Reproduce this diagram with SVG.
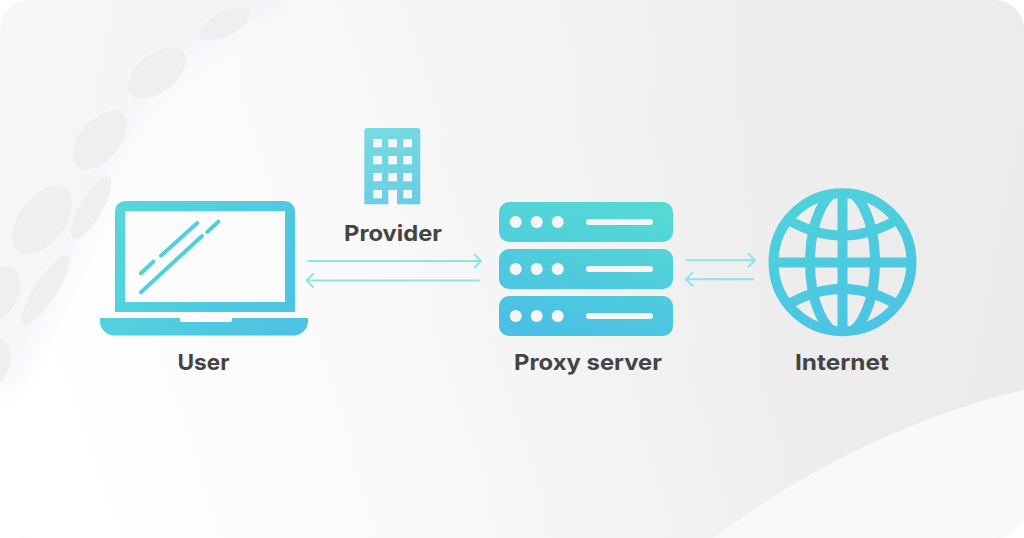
<svg xmlns="http://www.w3.org/2000/svg" width="1024" height="538" viewBox="0 0 1024 538">
<style>
.label{font-family:"Inter","Liberation Sans",sans-serif;font-weight:700;font-size:22px;fill:#444444;text-anchor:middle}
.conn{fill:none;stroke:#8fe4e6;stroke-width:2;marker-end:url(#chev)}
.dot{fill:#efefef}
.glass{fill:none;stroke:url(#gLaptop);stroke-width:4;stroke-linecap:round}
.win{fill:#f6f6f6}
.bar{fill:#f6f6f6}
</style>
<defs>
<marker id="chev" viewBox="0 0 10 16" refX="9" refY="8" markerWidth="10" markerHeight="16" markerUnits="userSpaceOnUse" orient="auto">
<path d="M2 1L9 8L2 15" fill="none" stroke="#8fe4e6" stroke-width="2"/>
</marker>
<linearGradient id="gBg" x1="0" y1="0" x2="1024" y2="200" gradientUnits="userSpaceOnUse"><stop offset="0" stop-color="#f7f7f7"/><stop offset="1" stop-color="#ebebeb"/></linearGradient>
<linearGradient id="gLeft" x1="50" y1="430" x2="800" y2="170" gradientUnits="userSpaceOnUse"><stop offset="0" stop-color="#ffffff"/><stop offset="0.45" stop-color="#fafafa" stop-opacity="0.85"/><stop offset="1" stop-color="#f2f2f2" stop-opacity="0"/></linearGradient>
<linearGradient id="gCorner" x1="720" y1="538" x2="1024" y2="400" gradientUnits="userSpaceOnUse"><stop offset="0" stop-color="#f8f8f8"/><stop offset="1" stop-color="#f9f9f9"/></linearGradient>
<linearGradient id="gLaptop" x1="115" y1="201" x2="300" y2="336" gradientUnits="userSpaceOnUse"><stop offset="0" stop-color="#55d8da"/><stop offset="1" stop-color="#4cc1e4"/></linearGradient>
<linearGradient id="gBuild" x1="380" y1="128" x2="405" y2="204" gradientUnits="userSpaceOnUse"><stop offset="0" stop-color="#75dce0"/><stop offset="1" stop-color="#6ccce6"/></linearGradient>
<linearGradient id="gServer" x1="605" y1="200" x2="565" y2="338" gradientUnits="userSpaceOnUse"><stop offset="0" stop-color="#54d9d4"/><stop offset="1" stop-color="#4bc0e4"/></linearGradient>
<linearGradient id="gGlobe" x1="815" y1="188" x2="870" y2="336" gradientUnits="userSpaceOnUse"><stop offset="0" stop-color="#4fd2da"/><stop offset="1" stop-color="#4cc3e4"/></linearGradient>
<clipPath id="cBg"><rect width="1024" height="538" rx="29"/></clipPath>
<clipPath id="cGlobe"><circle cx="842.5" cy="262.2" r="70"/></clipPath>
<clipPath id="cLeft"><path d="M285 0C215 22 165 60 135 105C105 155 85 205 60 262C40 310 20 352 0 388V538H1024V0Z"/></clipPath>
<filter id="soft" x="-30%" y="-30%" width="160%" height="160%"><feGaussianBlur stdDeviation="12"/></filter>
</defs>
<g id="background" clip-path="url(#cBg)">
<rect width="1024" height="538" fill="url(#gBg)"/>
<path d="M285 0C215 22 165 60 135 105C105 155 85 205 60 262C40 310 20 352 0 388V538H1024V0Z" fill="url(#gLeft)"/>
<g clip-path="url(#cLeft)"><path d="M285 0C215 22 165 60 135 105C105 155 85 205 60 262C40 310 20 352 0 388" fill="none" stroke="#eef3f9" stroke-width="18" filter="url(#soft)"/></g>
<g>
<ellipse class="dot" cx="225" cy="24" rx="28" ry="12" transform="rotate(-27 225 24)"/>
<ellipse class="dot" cx="157" cy="73" rx="34" ry="19" transform="rotate(-38 157 73)"/>
<ellipse class="dot" cx="100" cy="140" rx="35" ry="20" transform="rotate(-50 100 140)"/>
<ellipse class="dot" cx="91" cy="208" rx="36" ry="11" transform="rotate(-60 91 208)"/>
<ellipse class="dot" cx="42" cy="220" rx="39" ry="23" transform="rotate(-52 42 220)"/>
<ellipse class="dot" cx="45.500" cy="290" rx="41" ry="11" transform="rotate(-57 45.500 290)"/>
<ellipse class="dot" cx="-5" cy="296" rx="33" ry="21" transform="rotate(-55 -5 296)"/>
<ellipse class="dot" cx="-10" cy="364" rx="27" ry="19" transform="rotate(-65 -10 364)"/>
</g>
<path d="M1024 390C950 407 880 436 813 473C780 491 745 515 713 538H1024Z" fill="url(#gCorner)"/>
</g>
<g id="connectors">
<path class="conn" d="M307.500 261H481"/>
<path class="conn" d="M480 280.500H306.500"/>
<path class="conn" d="M686.300 260.300H755"/>
<path class="conn" d="M754 279.300H686"/>
</g>
<g id="user">
<path d="M125 201H285A10 10 0 0 1 295 211V312H115V211A10 10 0 0 1 125 201ZM125 211V302H285V211Z" fill="url(#gLaptop)" fill-rule="evenodd"/>
<path d="M100 318H180V320.500Q180 322 182 322H230Q232 322 232 320.500V318H308V321A14.500 14.500 0 0 1 293.500 335.500H114.500A14.500 14.500 0 0 1 100 321Z" fill="url(#gLaptop)"/>
<path class="glass" d="M141 273.300L153.300 261.700M161 255.700L197.300 223M207.300 232L218.300 221.700M141 292.300L202 236"/>
<text class="label" x="203.500" y="370" textLength="52" lengthAdjust="spacingAndGlyphs">User</text>
</g>
<g id="provider">
<path d="M367.300 128H417.300A3 3 0 0 1 420.300 131V204.300H397V190H388.300V204.300H364.300V131A3 3 0 0 1 367.300 128Z" fill="url(#gBuild)"/>
<g class="win">
<rect x="373.300" y="139" width="8.700" height="8.300"/><rect x="388.300" y="139" width="8.700" height="8.300"/><rect x="403.300" y="139" width="8.700" height="8.300"/>
<rect x="373.300" y="156" width="8.700" height="8.300"/><rect x="388.300" y="156" width="8.700" height="8.300"/><rect x="403.300" y="156" width="8.700" height="8.300"/>
<rect x="373.300" y="173" width="8.700" height="8.300"/><rect x="388.300" y="173" width="8.700" height="8.300"/><rect x="403.300" y="173" width="8.700" height="8.300"/>
<rect x="373.300" y="190" width="8.700" height="8.300"/><rect x="403.300" y="190" width="8.700" height="8.300"/>
</g>
<text class="label" x="393" y="241" textLength="98" lengthAdjust="spacingAndGlyphs">Provider</text>
</g>
<g id="proxy-server">
<rect x="499" y="202" width="174" height="40" rx="10" fill="url(#gServer)"/>
<rect x="499" y="249" width="174" height="40" rx="10" fill="url(#gServer)"/>
<rect x="499" y="296" width="174" height="40" rx="10" fill="url(#gServer)"/>
<g class="bar">
<circle cx="515.700" cy="222" r="6"/><circle cx="536.700" cy="222" r="6"/><circle cx="557.700" cy="222" r="6"/><rect x="586" y="219" width="67" height="6" rx="3"/>
<circle cx="515.700" cy="269" r="6"/><circle cx="536.700" cy="269" r="6"/><circle cx="557.700" cy="269" r="6"/><rect x="586" y="266" width="67" height="6" rx="3"/>
<circle cx="515.700" cy="316" r="6"/><circle cx="536.700" cy="316" r="6"/><circle cx="557.700" cy="316" r="6"/><rect x="586" y="313" width="67" height="6" rx="3"/>
</g>
<text class="label" x="588" y="370" textLength="148" lengthAdjust="spacingAndGlyphs">Proxy server</text>
</g>
<g id="internet">
<g fill="none" stroke="url(#gGlobe)" stroke-width="10">
<circle cx="842.500" cy="262.200" r="69"/>
<g clip-path="url(#cGlobe)">
<ellipse cx="842.500" cy="262.200" rx="32.500" ry="72"/>
<path d="M842.500 190V334M772 262.500H913"/>
<path d="M785 218Q842.500 253 900 218"/>
<path d="M785 306.400Q842.500 271.400 900 306.400"/>
</g>
</g>
<text class="label" x="842" y="370" textLength="94" lengthAdjust="spacingAndGlyphs">Internet</text>
</g>
</svg>
